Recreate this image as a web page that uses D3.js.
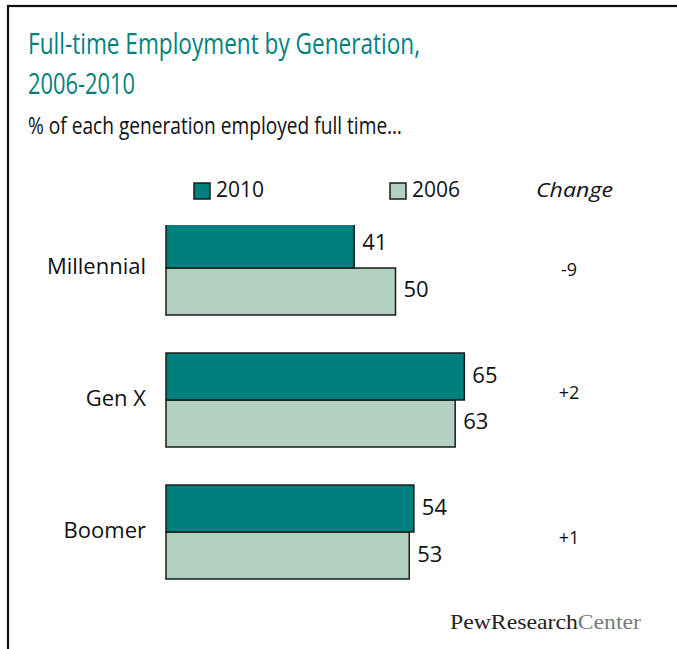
<!DOCTYPE html>
<html>
<head>
<meta charset="utf-8">
<script src="https://cdn.jsdelivr.net/npm/d3@7"></script>
<style>
  html, body { margin: 0; padding: 0; background: #fff; }
  svg { display: block; }
</style>
</head>
<body>
<svg id="chart" width="677" height="649"></svg>
<script>
const categories = ["Millennial", "Gen X", "Boomer"];
const seriesNames = ["2010", "2006"];
const values2010 = [41, 65, 54];
const values2006 = [50, 63, 53];
const changeLabels = ["-9", "+2", "+1"];

const teal = "#007f7f";
const light = "#b3d1c0";
const colors = { "2010": teal, "2006": light };

const svg = d3.select("#chart");
const font = "'Open Sans', 'Noto Sans', sans-serif";

// frame
svg.append("rect").attr("x", 8).attr("y", 6).attr("width", 720).attr("height", 720)
  .attr("fill", "none").attr("stroke", "#111").attr("stroke-width", 2.2);

// titles
svg.append("text").attr("x", 28).attr("y", 54).attr("fill", "#00827f")
  .attr("font-family", font).attr("font-size", 30)
  .attr("textLength", 392).attr("lengthAdjust", "spacingAndGlyphs")
  .text("Full-time Employment by Generation,");
svg.append("text").attr("x", 28).attr("y", 94).attr("fill", "#00827f")
  .attr("font-family", font).attr("font-size", 30)
  .attr("textLength", 107).attr("lengthAdjust", "spacingAndGlyphs")
  .text("2006-2010");
svg.append("text").attr("x", 28).attr("y", 134).attr("fill", "#111")
  .attr("font-family", font).attr("font-size", 24)
  .attr("textLength", 374).attr("lengthAdjust", "spacingAndGlyphs")
  .text("% of each generation employed full time…");

// scales
const x = d3.scaleLinear().domain([0, 100]).range([166, 625]);
const y = d3.scaleBand().domain(categories).range([221, 579]).paddingInner(0.288).paddingOuter(0);
const ySub = d3.scaleBand().domain(seriesNames).range([0, y.bandwidth()]);

// clip
svg.append("clipPath").attr("id", "plotclip")
  .append("rect").attr("x", 0).attr("y", 225).attr("width", 677).attr("height", 400);

const rows = categories.map((c, i) => ({
  cat: c,
  vals: [{ s: "2010", v: values2010[i] }, { s: "2006", v: values2006[i] }],
  change: changeLabels[i]
}));

const plot = svg.append("g").attr("clip-path", "url(#plotclip)");
const groups = plot.selectAll("g.grp").data(rows).join("g")
  .attr("class", "grp")
  .attr("transform", d => `translate(0,${y(d.cat)})`);

groups.selectAll("rect").data(d => d.vals.slice().reverse()).join("rect")
  .attr("x", x(0))
  .attr("y", d => ySub(d.s))
  .attr("width", d => x(d.v) - x(0))
  .attr("height", ySub.bandwidth())
  .attr("fill", d => colors[d.s])
  .attr("stroke", "#1a1a1a")
  .attr("stroke-width", 1.5);

// value labels
const labG = svg.append("g");
rows.forEach(r => {
  r.vals.forEach(d => {
    labG.append("text")
      .attr("x", x(d.v) + 8)
      .attr("y", y(r.cat) + ySub(d.s) + ySub.bandwidth() / 2 - 3)
      .attr("dominant-baseline", "central")
      .attr("font-family", font).attr("font-size", 22).attr("fill", "#111")
      .text(d.v);
  });
});

// category labels
svg.append("g").selectAll("text").data(rows).join("text")
  .attr("x", 146)
  .attr("y", d => y(d.cat) + y.bandwidth() / 2 - 3)
  .attr("text-anchor", "end")
  .attr("dominant-baseline", "central")
  .attr("font-family", font).attr("font-size", 22).attr("fill", "#111")
  .text(d => d.cat);

// change labels
const changeOffsets = [1, -8, 5];
svg.append("g").selectAll("text").data(rows).join("text")
  .attr("x", 569)
  .attr("y", (d, i) => y(d.cat) + y.bandwidth() / 2 + changeOffsets[i])
  .attr("text-anchor", "middle")
  .attr("dominant-baseline", "central")
  .attr("font-family", font).attr("font-size", 18).attr("fill", "#111")
  .text(d => d.change);

// legend
const legend = [{ s: "2010", x: 194 }, { s: "2006", x: 390 }];
legend.forEach(l => {
  svg.append("rect").attr("x", l.x).attr("y", 183).attr("width", 16).attr("height", 16)
    .attr("fill", colors[l.s]).attr("stroke", "#1a1a1a").attr("stroke-width", 1.5);
  svg.append("text").attr("x", l.x + 22).attr("y", 197)
    .attr("font-family", font).attr("font-size", 21).attr("fill", "#111")
    .text(l.s);
});
svg.append("text").attr("x", 536).attr("y", 197)
  .attr("font-family", font).attr("font-size", 20).attr("font-style", "italic").attr("fill", "#111")
  .attr("textLength", 77).attr("lengthAdjust", "spacingAndGlyphs")
  .text("Change");

// logo
const logo = svg.append("text").attr("x", 450).attr("y", 629)
  .attr("font-family", "'Liberation Serif', 'DejaVu Serif', serif").attr("font-size", 21)
  .attr("textLength", 191).attr("lengthAdjust", "spacingAndGlyphs");
logo.append("tspan").attr("fill", "#222").text("PewResearch");
logo.append("tspan").attr("fill", "#7a7a7a").text("Center");
</script>
</body>
</html>
